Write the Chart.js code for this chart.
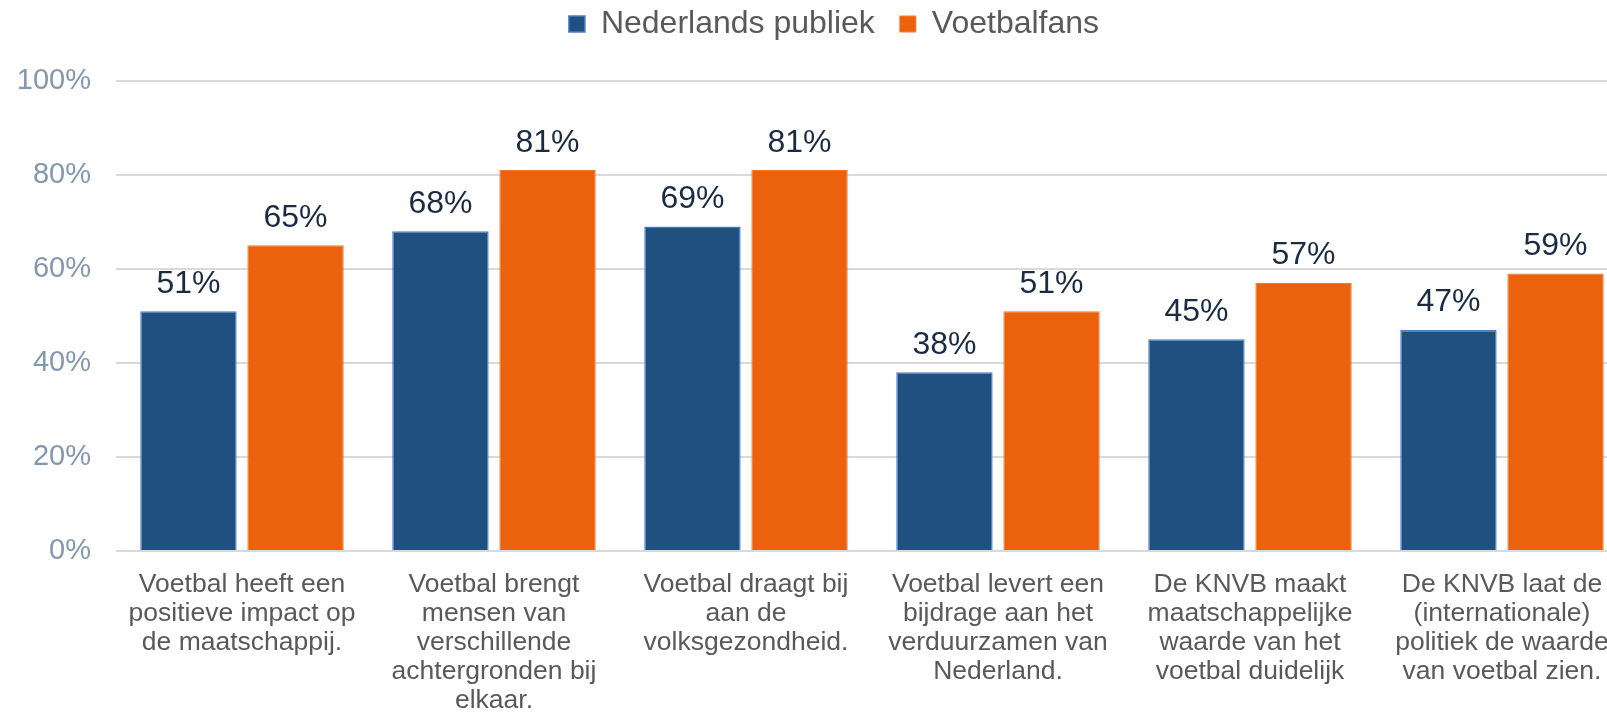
<!DOCTYPE html>
<html>
<head>
<meta charset="utf-8">
<script src="https://cdn.jsdelivr.net/npm/chart.js@4.4.1/dist/chart.umd.min.js"></script>
<style>
  html, body { margin: 0; padding: 0; background: #ffffff; overflow: hidden; width: 1607px; height: 715px; }
  #wrap { position: absolute; left: 0; top: 0; width: 1662px; height: 715px; }
</style>
</head>
<body>
<div id="wrap"><canvas id="c"></canvas></div>
<script>
const categories = [
  ["Voetbal heeft een", "positieve impact op", "de maatschappij."],
  ["Voetbal brengt", "mensen van", "verschillende", "achtergronden bij", "elkaar."],
  ["Voetbal draagt bij", "aan de", "volksgezondheid."],
  ["Voetbal levert een", "bijdrage aan het", "verduurzamen van", "Nederland."],
  ["De KNVB maakt", "maatschappelijke", "waarde van het", "voetbal duidelijk"],
  ["De KNVB laat de", "(internationale)", "politiek de waarde", "van voetbal zien."]
];
const seriesNames = ["Nederlands publiek", "Voetbalfans"];
const publiek = [51, 68, 69, 38, 45, 47];
const fans = [65, 81, 81, 51, 57, 59];
const yTicks = [0, 20, 40, 60, 80, 100];

const FONT = "'Liberation Sans', Arial, Helvetica, sans-serif";

const valueLabels = {
  id: 'valueLabels',
  afterDatasetsDraw(chart) {
    const ctx = chart.ctx;
    ctx.save();
    ctx.font = "32px " + FONT;
    ctx.fillStyle = '#1a2b44';
    ctx.textAlign = 'center';
    ctx.textBaseline = 'alphabetic';
    chart.data.datasets.forEach((ds, di) => {
      const meta = chart.getDatasetMeta(di);
      meta.data.forEach((bar, i) => {
        ctx.fillText(ds.data[i] + '%', bar.x, bar.y - 18.5);
      });
    });
    ctx.restore();
  }
};

const legendFix = {
  id: 'legendFix',
  beforeLayout(chart) {
    const lg = chart.legend;
    if (lg && !lg._fixWrapped) {
      const f = lg.fit;
      lg.fit = function () { f.call(this); this.height = 97.7; };
      lg._fixWrapped = true;
    }
  },
  afterLayout(chart) {
    const lg = chart.legend;
    if (lg) {
      lg.left += 20;
      lg.right += 20;
    }
  }
};

new Chart(document.getElementById('c'), {
  type: 'bar',
  data: {
    labels: categories,
    datasets: [
      {
        label: seriesNames[0],
        data: publiek,
        backgroundColor: '#1f5080',
        borderColor: '#4a7cc7',
        borderWidth: 1.5,
        categoryPercentage: 0.85,
        barPercentage: 0.9
      },
      {
        label: seriesNames[1],
        data: fans,
        backgroundColor: '#ec610c',
        borderColor: '#f07a30',
        borderWidth: 1,
        categoryPercentage: 0.85,
        barPercentage: 0.9
      }
    ]
  },
  options: {
    responsive: true,
    maintainAspectRatio: false,
    animation: false,
    layout: { padding: { top: -17, left: 0, right: 34, bottom: 0 } },
    plugins: {
      tooltip: { enabled: false },
      legend: {
        position: 'top',
        align: 'center',
        labels: {
          boxWidth: 16,
          boxHeight: 16,
          padding: 25,
          color: '#595959',
          font: { family: FONT, size: 32 }
        }
      }
    },
    scales: {
      x: {
        grid: { display: false, drawTicks: false },
        border: { display: false },
        ticks: {
          autoSkip: false,
          maxRotation: 0,
          minRotation: 0,
          padding: 19,
          color: '#595959',
          font: { family: FONT, size: 26.5, lineHeight: 1.1 }
        },
        afterFit(scale) { scale.height = 164; }
      },
      y: {
        min: 0,
        max: 100,
        afterBuildTicks(scale) { scale.ticks = yTicks.map(v => ({ value: v })); },
        grid: { color: '#d9d9d9', lineWidth: 2, drawTicks: false },
        border: { display: false },
        ticks: {
          padding: 25,
          color: '#8497b0',
          font: { family: FONT, size: 29 },
          callback: v => v + '%'
        },
        afterFit(scale) { scale.width = 116; }
      }
    }
  },
  plugins: [legendFix, valueLabels]
});
</script>
</body>
</html>
